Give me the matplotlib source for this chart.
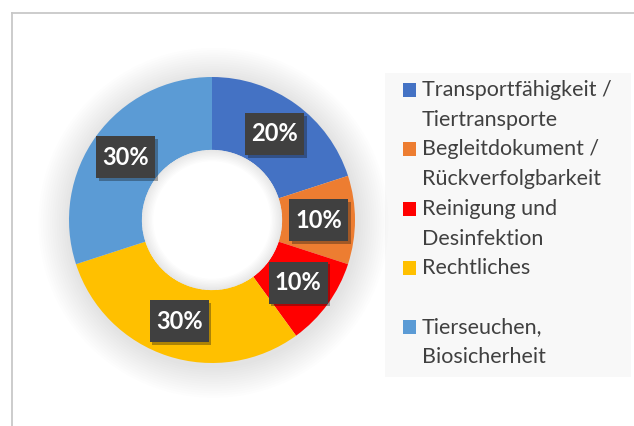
import numpy as np
import matplotlib.pyplot as plt
from matplotlib.patches import Rectangle, Circle, Wedge
from matplotlib.lines import Line2D
import matplotlib.patheffects as pe

categories = ['Transportfähigkeit /\nTiertransporte',
              'Begleitdokument /\nRückverfolgbarkeit',
              'Reinigung und\nDesinfektion',
              'Rechtliches\n',
              'Tierseuchen,\nBiosicherheit']
shares = [20, 10, 10, 30, 30]
colors = ['#4472C4', '#ED7D31', '#FF0000', '#FFC000', '#5B9BD5']

plt.rcParams['font.family'] = ['Lato', 'DejaVu Sans']
plt.rcParams['hatch.color'] = '#555555'
plt.rcParams['hatch.linewidth'] = 1.5

W, H = 634, 426
fig = plt.figure(figsize=(W / 100, H / 100), dpi=100)
fig.patch.set_facecolor('white')

# chart area border (cut off at right/bottom)
fig.add_artist(Line2D([11.5 / W, 11.5 / W], [0, 1 - 12.5 / H], color='#c8c8c8', lw=1.3))
fig.add_artist(Line2D([11.5 / W, 1], [1 - 12.5 / H, 1 - 12.5 / H], color='#c8c8c8', lw=1.3))

# legend background
fig.add_artist(Rectangle((385 / W, 49 / H), 246 / W, 304 / H, transform=fig.transFigure,
                         facecolor='#f8f8f8', edgecolor='none', zorder=0))

cx, cy, r = 212, 426 - 220, 143
lim = 1.3
ax = fig.add_axes([(cx - r * lim) / W, (cy - r * lim) / H, 2 * lim * r / W, 2 * lim * r / H])

# soft shadow around the ring
for i in range(14):
    rr = 1.0 + 0.016 * (14 - i)
    ax.add_patch(Circle((0.01, -0.02), rr, color='black', alpha=0.008, lw=0, zorder=0))

wedges, texts = ax.pie(shares, colors=colors, startangle=90, counterclock=False,
                       radius=1.0, wedgeprops=dict(width=0.51, linewidth=0))

# hole: white with a faint inner shadow
ax.add_patch(Circle((0, 0), 0.49, color='white', lw=0, zorder=2))
for w in np.arange(0.01, 0.08, 0.01):
    ax.add_patch(Wedge((0, 0), 0.49, 0, 360, width=w, color='black', alpha=0.012, lw=0, zorder=2))

ax.set_xlim(-lim, lim)
ax.set_ylim(-lim, lim)
ax.set_aspect('equal')

# data labels in dark boxes (box size 59x42 px, 1 data unit = r px)
bw, bh = 59 / r, 42 / r
theta = 90.0
for v in shares:
    mid = np.deg2rad(theta - v * 3.6 / 2)
    theta -= v * 3.6
    x, y = 0.745 * np.cos(mid), 0.745 * np.sin(mid)
    box = Rectangle((x - bw / 2, y - bh / 2), bw, bh, facecolor='#404040', edgecolor='none',
                    hatch='.', zorder=4)
    box.set_path_effects([pe.SimplePatchShadow(offset=(2, -2), alpha=0.35), pe.Normal()])
    ax.add_patch(box)
    ax.text(x, y, f'{v}%', ha='center', va='center', fontsize=17, fontweight='bold',
            color='white', zorder=5)

# legend: square marker next to first line of each two-line label
y0, entry_step, line_step = 90, 59.3, 30
for i, (lab, c) in enumerate(zip(categories, colors)):
    y = y0 + entry_step * i
    fig.add_artist(Rectangle((402.5 / W, 1 - (y + 7) / H), 13.5 / W, 14 / H,
                             transform=fig.transFigure, facecolor=c, edgecolor='none'))
    for j, line in enumerate(lab.split('\n')):
        fig.text(422 / W, 1 - (y + j * line_step) / H, line, ha='left', va='center',
                 fontsize=15.5, color='#404040')

fig.savefig('out.png', dpi=100)
